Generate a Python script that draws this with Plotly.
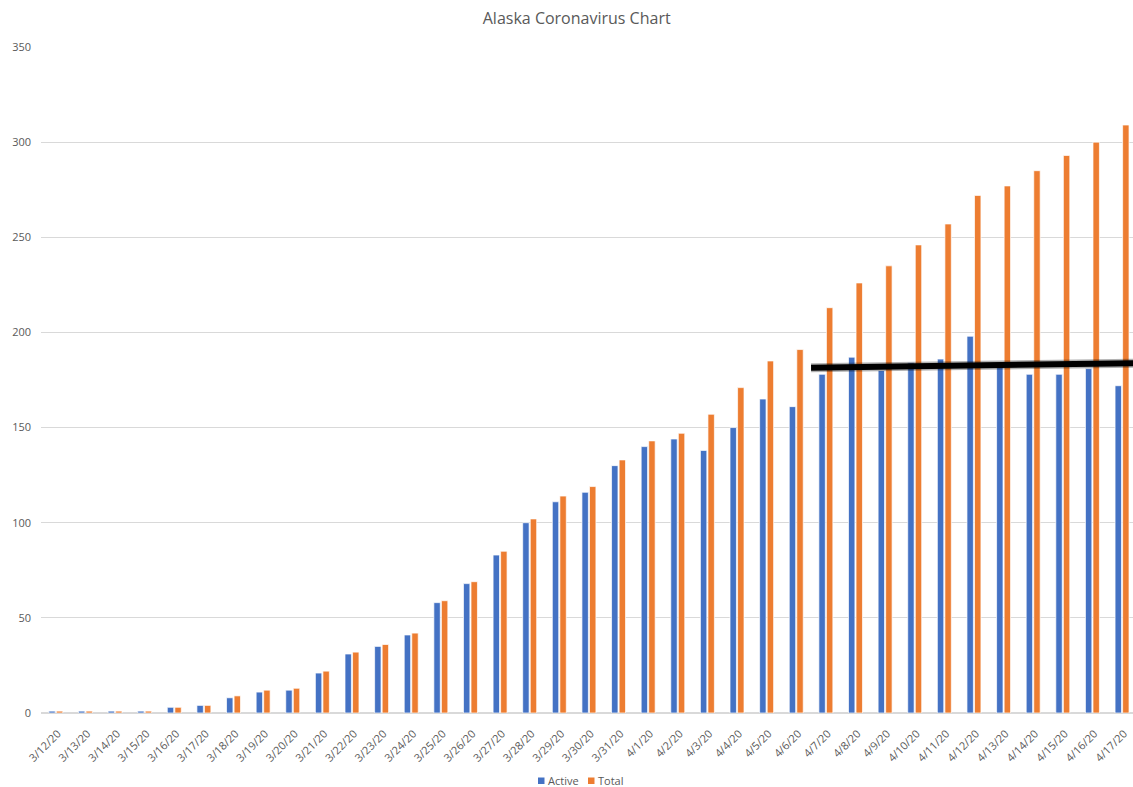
import plotly.graph_objects as go

dates = ["3/12/20", "3/13/20", "3/14/20", "3/15/20", "3/16/20", "3/17/20", "3/18/20",
         "3/19/20", "3/20/20", "3/21/20", "3/22/20", "3/23/20", "3/24/20", "3/25/20",
         "3/26/20", "3/27/20", "3/28/20", "3/29/20", "3/30/20", "3/31/20", "4/1/20",
         "4/2/20", "4/3/20", "4/4/20", "4/5/20", "4/6/20", "4/7/20", "4/8/20", "4/9/20",
         "4/10/20", "4/11/20", "4/12/20", "4/13/20", "4/14/20", "4/15/20", "4/16/20",
         "4/17/20"]
active = [1, 1, 1, 1, 3, 4, 8, 11, 12, 21, 31, 35, 41, 58, 68, 83, 100, 111, 116, 130,
          140, 144, 138, 150, 165, 161, 178, 187, 180, 184, 186, 198, 184, 178, 178, 181, 172]
total = [1, 1, 1, 1, 3, 4, 9, 12, 13, 22, 32, 36, 42, 59, 69, 85, 102, 114, 119, 133,
         143, 147, 157, 171, 185, 191, 213, 226, 235, 246, 257, 272, 277, 285, 293, 300, 309]
y_ticks = [0, 50, 100, 150, 200, 250, 300, 350]
series_names = ["Active", "Total"]

# hand-drawn marker line (data units: category index, value)
mark_x = [25.5, 36.4]
mark_y = [181.5, 183.8]

BLUE = "#4472C4"
ORANGE = "#ED7D31"
GRAY = "#595959"
FONT = "Open Sans, Noto Sans, sans-serif"

W, H = 1133, 787
ML, MR, MT, MB = 41, 0, 47, 74
PW, PH = W - ML - MR, H - MT - MB


def px_x(p):
    return (p - ML) / PW


def px_y(p):
    return (H - MB - p) / PH


fig = go.Figure()
for name, vals, col in zip(series_names, [active, total], [BLUE, ORANGE]):
    fig.add_trace(go.Bar(x=dates, y=vals, name=name, marker_color=col, showlegend=False,
                         marker_line=dict(color="rgba(255,255,255,0.7)", width=1)))

# blurred thick marker line
fig.add_shape(type="line", xref="x", yref="y", x0=mark_x[0], x1=mark_x[1],
              y0=mark_y[0], y1=mark_y[1], line=dict(color="rgba(0,0,0,0.3)", width=9))
fig.add_shape(type="line", xref="x", yref="y", x0=mark_x[0], x1=mark_x[1],
              y0=mark_y[0], y1=mark_y[1], line=dict(color="black", width=6))

# legend (Excel style: small square + label)
legend_items = [(538, BLUE, "Active"), (588, ORANGE, "Total")]
for lx, col, name in legend_items:
    fig.add_shape(type="rect", xref="paper", yref="paper",
                  x0=px_x(lx), x1=px_x(lx + 6.5), y0=px_y(784), y1=px_y(777.5),
                  fillcolor=col, line=dict(width=0))
    fig.add_annotation(text=name, xref="paper", yref="paper", x=px_x(lx + 7.5),
                       y=px_y(780.5), xanchor="left", yanchor="middle", showarrow=False,
                       font=dict(family=FONT, size=11, color=GRAY))

fig.update_layout(
    width=W, height=H,
    paper_bgcolor="white", plot_bgcolor="white",
    margin=dict(l=ML, r=MR, t=MT, b=MB),
    barmode="group", bargap=0.49, bargroupgap=0.15,
    title=dict(text="Alaska Coronavirus Chart", x=0.509, xref="container", xanchor="center",
               y=1 - 18 / H, yref="container", yanchor="middle",
               font=dict(family=FONT, size=16, color=GRAY)),
    font=dict(family=FONT, size=11, color=GRAY),
    showlegend=False,
    xaxis=dict(type="category", range=[-0.5, 36.37], tickangle=-45, showgrid=False,
               showline=True, linecolor="#D9D9D9", linewidth=1, ticks="", automargin=False,
               ticklabelstandoff=9, ticklabelshift=2,
               tickfont=dict(size=11, color=GRAY)),
    yaxis=dict(range=[0, 350], tickvals=y_ticks, showgrid=True, gridcolor="#D9D9D9",
               gridwidth=1, zeroline=True, zerolinecolor="#D9D9D9", showline=False,
               ticks="", automargin=False, ticklabelstandoff=9,
               tickfont=dict(size=11, color=GRAY)),
)

fig.write_html("out.html", config={"displayModeBar": False},
               post_script="document.body.style.margin='0';document.body.style.overflow='hidden';")
